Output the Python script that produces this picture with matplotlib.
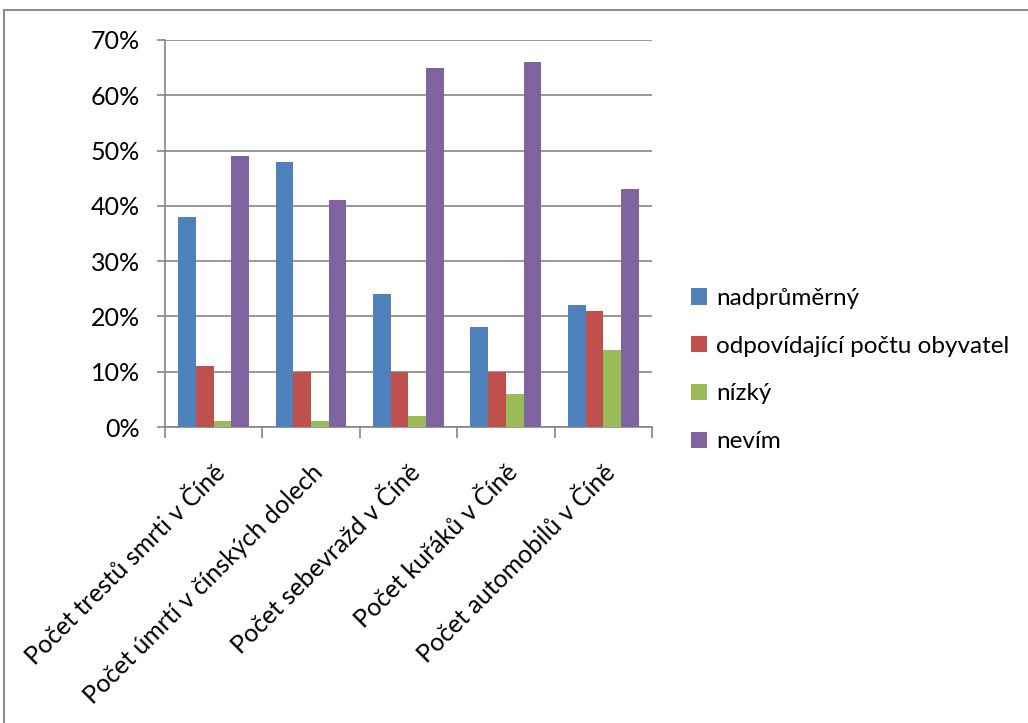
import numpy as np
import matplotlib.pyplot as plt
from matplotlib.patches import Rectangle
from matplotlib.ticker import PercentFormatter

plt.rcParams['font.family'] = ['Lato', 'DejaVu Sans']

categories = ['Počet trestů smrti v Číně', 'Počet úmrtí v čínských dolech',
              'Počet sebevražd v Číně', 'Počet kuřáků v Číně', 'Počet automobilů v Číně']
series = ['nadprůměrný', 'odpovídající počtu obyvatel', 'nízký', 'nevím']
nadprumerny = [38, 48, 24, 18, 22]
odpovidajici = [11, 10, 10, 10, 21]
nizky = [1, 1, 2, 6, 14]
nevim = [49, 41, 65, 66, 43]
colors = ['#4f81bd', '#c0504d', '#9bbb59', '#8064a2']

fig = plt.figure(figsize=(10.28, 7.23), dpi=100)
ax = fig.add_axes([0.1605, 0.4094, 0.4737, 0.5353])

# outer chart frame
fig.patches.append(Rectangle((4 / 1028, -0.05), 1.1, 1 - 10 / 723 + 0.05,
                             transform=fig.transFigure, fill=False,
                             edgecolor='#8c8c8c', linewidth=1.5))

x = np.arange(len(categories))
w = 1 / 5.5
for i, (vals, name) in enumerate(zip([nadprumerny, odpovidajici, nizky, nevim], series)):
    ax.bar(x + (i - 1.5) * w, vals, w, color=colors[i], label=name, zorder=3)

ax.set_xlim(-0.5, len(categories) - 0.5)
ax.set_ylim(0, 70)
ax.set_yticks(range(0, 71, 10))
ax.yaxis.set_major_formatter(PercentFormatter(decimals=0))
ax.yaxis.grid(True, color='#868686', linewidth=1.2, zorder=0)

ax.set_xticks(x)
ax.set_xticklabels(categories, rotation=45, ha='right', rotation_mode='anchor', fontsize=18)
ax.tick_params(axis='x', length=0, pad=24)
ax.set_xticks(np.arange(-0.5, len(categories)), minor=True)
ax.tick_params(axis='x', which='minor', length=8, color='#868686', width=1.2)
ax.tick_params(axis='y', labelsize=18, length=6, color='#868686', width=1.2, pad=12)

for s in ['top', 'right']:
    ax.spines[s].set_visible(False)
for s in ['left', 'bottom']:
    ax.spines[s].set_color('#868686')
    ax.spines[s].set_linewidth(1.2)

ax.legend(loc='center left', bbox_to_anchor=(1.035, 0.147), frameon=False, fontsize=17.5,
          handlelength=0.65, handleheight=0.65, handletextpad=0.4, labelspacing=1.1)

fig.savefig('out.png', dpi=100)
